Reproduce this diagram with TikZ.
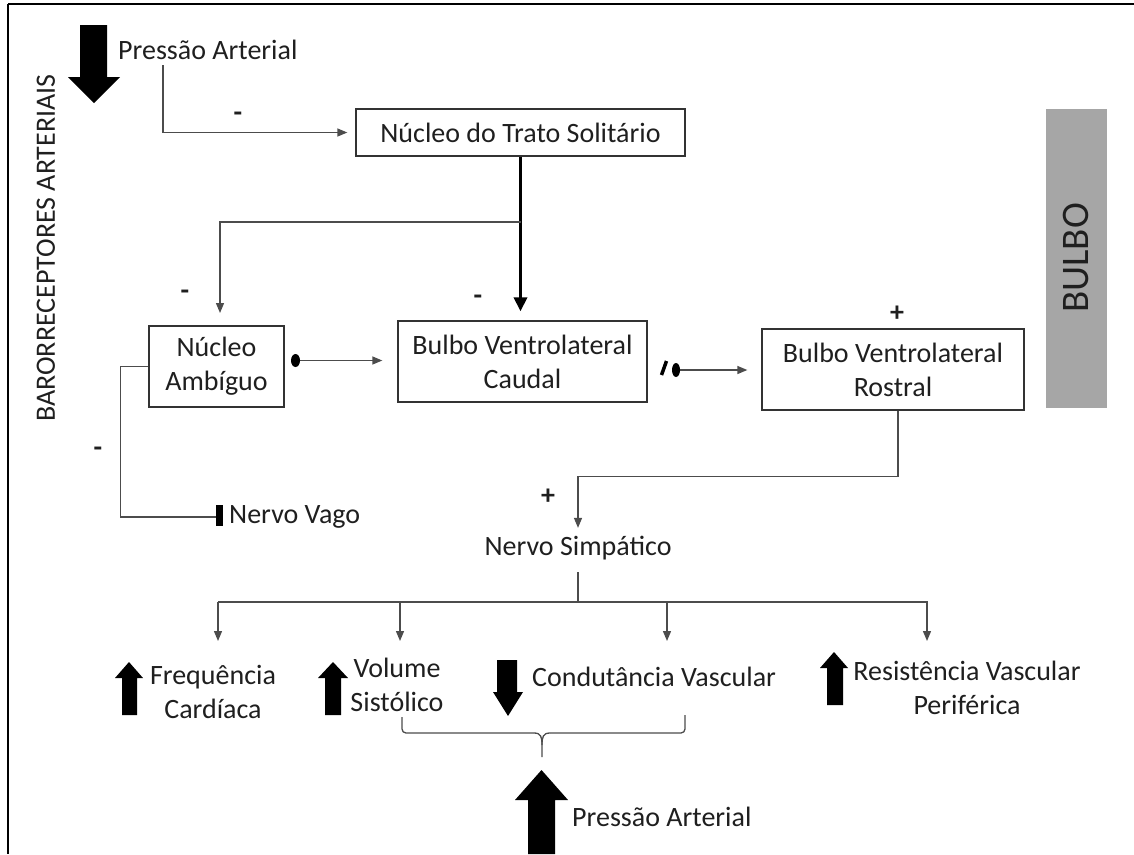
\documentclass[tikz,border=0pt]{standalone}
\usepackage{fontspec}
\setmainfont{Carlito}
\usetikzlibrary{arrows.meta}
\definecolor{bulbogray}{HTML}{A6A6A6}
\definecolor{txt}{HTML}{1F1F1F}
\begin{document}
\begin{tikzpicture}[x=1pt,y=-1pt,
  every node/.style={text=txt, font=\fontsize{28}{34}\selectfont},
  box/.style={draw=black!80, line width=1.3pt, align=center, inner sep=0pt},
  conn/.style={draw=black!70, line width=1.3pt},
  arr/.style={conn, -{Triangle[length=10pt,width=8pt]}},
  sign/.style={font=\fontsize{28}{34}\selectfont\bfseries, inner sep=0pt},
  blk/.style={fill=black, draw=none}
]
\useasboundingbox (0,0) rectangle (1134,854);
% frame
\draw[line width=2pt] (8,4) -- (1134,4);
\draw[line width=1.5pt] (8,4) -- (8,854);

% side labels
\node[rotate=90, inner sep=0pt] (baro) at (46,248) {BARORRECEPTORES ARTERIAIS};
\fill[bulbogray] (1046,109) rectangle (1107,408);
\node[rotate=90, inner sep=0pt, font=\fontsize{39}{45}\selectfont] (bulbo) at (1076,258) {BULBO};

% top pressure
\fill[blk] (80,25) -- (107,25) -- (107,77) -- (120,77) -- (94,103) -- (68,77) -- (80,77) -- cycle;
\node[anchor=west, inner sep=0pt] (pa1) at (118,50) {Pressão Arterial};
\coordinate (pa1s) at (163,65);

% boxes
\node[box, minimum width=329pt, minimum height=47pt] (nts) at (520.5,132.5) {Núcleo do Trato Solitário};
\node[box, minimum width=135pt, minimum height=81pt] (amb) at (216.5,366.5) {Núcleo\\Ambíguo};
\node[box, minimum width=249pt, minimum height=81pt] (bvlc) at (522.5,361.5) {Bulbo Ventrolateral\\Caudal};
\node[box, minimum width=262pt, minimum height=81pt] (bvlr) at (893,369.5) {Bulbo Ventrolateral\\Rostral};

% connectors top
\draw[arr, shorten >=8pt] (pa1s) |- (nts.west);
\node[sign] at (238,117) {-};
\draw[line width=3.5pt, -{Triangle[length=14pt,width=13pt]}, shorten >=9pt] (nts.south) -- (nts.south |- bvlc.north);
\node[sign] at (478,300) {-};
\coordinate (br) at (520.5,222);
\coordinate (ambin) at (220,326);
\draw[arr, shorten >=13pt] (br) -| (ambin);
\node[sign] at (185,295) {-};

% dot connector amb -> bvlc
\coordinate (d1) at (295.5,360.5);
\draw[arr, shorten >=15pt] (d1) -- (bvlc.west |- d1);
\fill[black] (d1) ellipse (4.5pt and 6.5pt);

% I dot connector bvlc -> bvlr
\coordinate (d2) at (676,370);
\draw[line width=3.5pt, black] (661.5,375) -- (666.5,361);
\draw[arr, shorten >=14pt] (d2) -- (bvlr.west |- d2);
\fill[black] (d2) ellipse (4pt and 7pt);
\node[sign] at (897,314) {+};

% Nervo vago
\node[anchor=west, inner sep=0pt] (nv) at (229,517) {Nervo Vago};
\coordinate (vg) at (217,517);
\draw[conn] (amb.west) -- ++(-28,0) |- (vg);
\fill[black] (216,505) rectangle (223,526);
\node[sign] at (98,452) {-};

% Nervo simpatico
\node[inner sep=0pt] (ns) at (578,548) {Nervo Simpático};
\draw[arr, shorten >=8pt] ([xshift=5pt]bvlr.south) -- ++(0,65.5) -| (ns.north);
\node[sign] at (548,497) {+};
\coordinate (nsb) at (578,572);
\coordinate (hub) at (578,602);
\draw[conn] (nsb) -- (hub);
\draw[conn] (218,602) -- (928,602);
\foreach \xx/\nm in {218/a1,400/a2,667/a3,927/a4}{
  \coordinate (\nm) at (\xx,602);
  \draw[arr] (\nm) -- (\xx,641);
}

% effects
\fill[blk] (129,662) -- (143,678) -- (137,678) -- (137,715) -- (122,715) -- (122,678) -- (115,678) -- cycle;
\node[align=center, inner sep=0pt] (fc) at (213,692) {Frequência\\Cardíaca};
\fill[blk] (333,662) -- (348,678) -- (341,678) -- (341,715) -- (325,715) -- (325,678) -- (318,678) -- cycle;
\node[align=center, inner sep=0pt] (vs) at (397,685) {Volume\\Sistólico};
\fill[blk] (497,660) -- (517,660) -- (517,692) -- (523,692) -- (508,716) -- (493,692) -- (497,692) -- cycle;
\node[anchor=west, inner sep=0pt] (cv) at (532,677) {Condutância Vascular};
\fill[blk] (834,652) -- (848,668) -- (843,668) -- (843,705) -- (827,705) -- (827,668) -- (820,668) -- cycle;
\node[align=center, inner sep=0pt] (rv) at (967,688) {Resistência Vascular\\Periférica};

% brace
\draw[conn, rounded corners=4pt] (402,717) -- (402,733) -- (534,733);
\draw[conn] (534,733) .. controls (541,733) and (542,737) .. (542,745) -- (542,757);
\draw[conn, rounded corners=4pt] (685,715) -- (685,733) -- (550,733);
\draw[conn] (550,733) .. controls (543,733) and (542,737) .. (542,745);

% bottom pressure
\fill[blk] (541.5,770) -- (568,800) -- (555,800) -- (555,854) -- (528,854) -- (528,800) -- (515,800) -- cycle;
\node[anchor=west, inner sep=0pt] (pa2) at (572,817) {Pressão Arterial};
\end{tikzpicture}
\end{document}
